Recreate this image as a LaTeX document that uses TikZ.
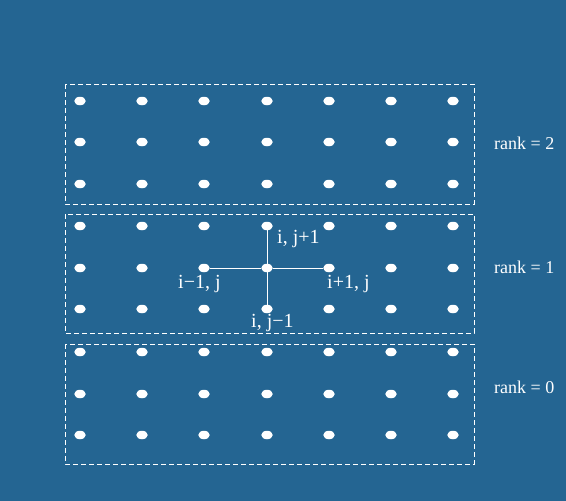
\documentclass[tikz,border=0pt]{standalone}
\usepackage{fontspec}
\setmainfont{Liberation Serif}
\usetikzlibrary{shapes.geometric}
\definecolor{bgblue}{RGB}{36,101,146}
\begin{document}
\begin{tikzpicture}[x=1pt,y=-1pt,
  dot/.style={ellipse,fill=white,draw=none,minimum width=11.5pt,minimum height=8.5pt,inner sep=0pt},
  rankbox/.style={draw=white,line width=1pt,dash pattern=on 5pt off 3pt},
  lbl/.style={text=white,font=\fontsize{20}{24}\selectfont,inner sep=0pt,anchor=base west},
  ranklbl/.style={text=white,font=\fontsize{18}{22}\selectfont,inner sep=0pt,anchor=base west},
  link/.style={draw=white,line width=0.9pt}]
\fill[bgblue] (0,0) rectangle (566,501);
\useasboundingbox (0,0) rectangle (566,501);
% boxes
\draw[rankbox] (65,84) rectangle (474,204);
\draw[rankbox] (65,214) rectangle (474,333);
\draw[rankbox] (65,344) rectangle (474,464);
% dots
\foreach \y [count=\r] in {101,142,184,226,268,309,352,394,435}{
  \foreach \x [count=\c] in {80,142,204,267,329,391,453}{
    \node[dot] (d\r-\c) at (\x,\y) {};
  }
}
% stencil
\draw[link] (d5-3) -- (d5-4) -- (d5-5);
\draw[link] (d4-4) -- (d5-4) -- (d6-4);
% labels
\node[lbl] (up) at (277,243) {i, j+1};
\node[lbl] (lf) at (178,288) {i−1, j};
\node[lbl] (rt) at (327,288) {i+1, j};
\node[lbl] (dn) at (251,327) {i, j−1};
\node[ranklbl] (r2) at (494,149) {rank = 2};
\node[ranklbl] (r1) at (494,273) {rank = 1};
\node[ranklbl] (r0) at (494,393) {rank = 0};
\end{tikzpicture}
\end{document}
